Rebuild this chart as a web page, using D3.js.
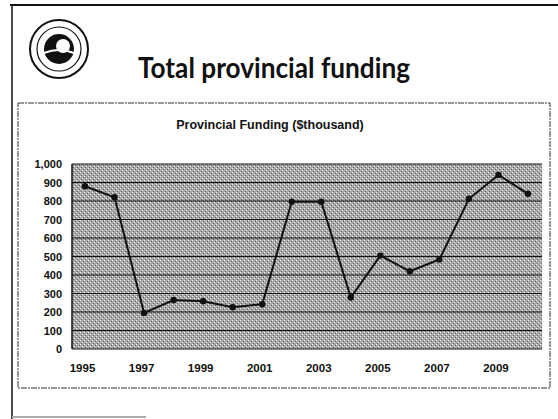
<!DOCTYPE html>
<html>
<head>
<meta charset="utf-8">
<script src="https://cdn.jsdelivr.net/npm/d3@7"></script>
<style>
  body { margin: 0; background: #fff; }
</style>
</head>
<body>
<div id="chart"></div>
<script>
// data
const years = [1995, 1996, 1997, 1998, 1999, 2000, 2001, 2002, 2003, 2004, 2005, 2006, 2007, 2008, 2009, 2010];
const funding = [880, 820, 195, 265, 258, 226, 242, 796, 796, 278, 505, 420, 484, 812, 941, 839];
const yTicks = [0, 100, 200, 300, 400, 500, 600, 700, 800, 900, 1000];
const xLabels = [1995, 1997, 1999, 2001, 2003, 2005, 2007, 2009];

// const
const width = 558;
const height = 419;
const margin = { top: 164, right: 16, bottom: 70, left: 72 };

// svg
const svg = d3.select('#chart')
        .append('svg')
        .attr('width', width)
        .attr('height', height)
        .attr('style', 'font-family: "Liberation Sans", Arial, sans-serif');

// dithered gray texture for plot area
const defs = svg.append('defs');
const pat = defs.append('pattern')
        .attr('id', 'dither')
        .attr('width', 4).attr('height', 4)
        .attr('patternUnits', 'userSpaceOnUse');
pat.append('rect').attr('width', 4).attr('height', 4).attr('fill', '#a8a8a8');
pat.append('rect').attr('x', 0).attr('y', 0).attr('width', 1).attr('height', 1).attr('fill', '#eeeeee');
pat.append('rect').attr('x', 2).attr('y', 2).attr('width', 1).attr('height', 1).attr('fill', '#eeeeee');
pat.append('rect').attr('x', 1).attr('y', 3).attr('width', 1).attr('height', 1).attr('fill', '#666666');
pat.append('rect').attr('x', 3).attr('y', 1).attr('width', 1).attr('height', 1).attr('fill', '#666666');

// slide frame
svg.append('line').attr('x1', 10).attr('x2', 558).attr('y1', 5).attr('y2', 5)
        .attr('stroke', '#111').attr('stroke-width', 2);
svg.append('line').attr('x1', 12).attr('x2', 12).attr('y1', 5).attr('y2', 419)
        .attr('stroke', '#111').attr('stroke-width', 1.5);
svg.append('line').attr('x1', 12).attr('x2', 146).attr('y1', 417).attr('y2', 417)
        .attr('stroke', '#aaa').attr('stroke-width', 2);

// logo
const logo = svg.append('g').attr('transform', 'translate(59,49)');
logo.append('circle').attr('r', 29).attr('fill', '#fff').attr('stroke', '#111').attr('stroke-width', 2);
logo.append('circle').attr('r', 22).attr('fill', 'none').attr('stroke', '#111').attr('stroke-width', 1.2);
logo.append('circle').attr('r', 15).attr('fill', '#111');
logo.append('circle').attr('cx', 4).attr('cy', -3).attr('r', 7).attr('fill', '#fff');
logo.append('path').attr('d', 'M-15,4 Q0,-2 15,4').attr('stroke', '#fff').attr('stroke-width', 2).attr('fill', 'none');

// slide title
svg.append('text')
        .attr('x', 138).attr('y', 78)
        .attr('font-family', 'Lato, "Open Sans", sans-serif')
        .attr('font-weight', 'bold')
        .attr('font-size', 29)
        .attr('textLength', 272)
        .attr('lengthAdjust', 'spacingAndGlyphs')
        .attr('fill', '#111')
        .text('Total provincial funding');

// chart box
svg.append('rect')
        .attr('x', 18).attr('y', 103).attr('width', 532).attr('height', 285)
        .attr('fill', '#fff')
        .attr('stroke', '#333').attr('stroke-width', 1)
        .attr('stroke-dasharray', '6,1,2,1');

// chart title
svg.append('text')
        .attr('x', 270).attr('y', 129)
        .attr('text-anchor', 'middle')
        .attr('font-weight', 'bold')
        .attr('font-size', 12.5)
        .attr('fill', '#111')
        .text('Provincial Funding ($thousand)');

// x axis
const x = d3.scalePoint()
        .domain(years)
        .range([85, 528]);

// y axis
const y = d3.scaleLinear()
        .domain([0, 1000])
        .range([height - margin.bottom, margin.top]);

// plot background
svg.append('rect')
        .attr('x', margin.left).attr('y', margin.top)
        .attr('width', width - margin.right - margin.left)
        .attr('height', height - margin.bottom - margin.top)
        .attr('fill', 'url(#dither)');

// grid lines
svg.append('g')
        .selectAll('line')
        .data(yTicks)
        .join('line')
        .attr('x1', margin.left).attr('x2', width - margin.right)
        .attr('y1', d => y(d)).attr('y2', d => y(d))
        .attr('stroke', '#111').attr('stroke-width', 1.2);

svg.append('line')
        .attr('x1', margin.left).attr('x2', margin.left)
        .attr('y1', margin.top).attr('y2', y(0))
        .attr('stroke', '#111').attr('stroke-width', 1.5);

svg.append('g')
        .attr('transform', `translate(${margin.left - 7}, 0)`)
        .call(d3.axisLeft(y).tickValues(yTicks).tickSize(0).tickFormat(d3.format(',')))
        .call(g => g.select('.domain').remove())
        .call(g => g.selectAll('text')
                .attr('font-family', '"Liberation Sans", Arial, sans-serif')
                .attr('font-weight', 'bold')
                .attr('font-size', 11)
                .attr('fill', '#111'));

svg.append('g')
        .attr('transform', `translate(-3, ${y(0) + 12})`)
        .call(d3.axisBottom(x).tickValues(xLabels).tickSize(0))
        .call(g => g.select('.domain').remove())
        .call(g => g.selectAll('text')
                .attr('font-family', '"Liberation Sans", Arial, sans-serif')
                .attr('font-weight', 'bold')
                .attr('font-size', 11.5)
                .attr('fill', '#111'));

// line
const line = d3.line()
        .x((d, i) => x(years[i]))
        .y(d => y(d));

svg.append('path')
        .datum(funding)
        .attr('d', line)
        .attr('fill', 'none')
        .attr('stroke', '#111')
        .attr('stroke-width', 2);

svg.append('g')
        .selectAll('circle')
        .data(funding)
        .join('circle')
        .attr('cx', (d, i) => x(years[i]))
        .attr('cy', d => y(d))
        .attr('r', 3.2)
        .attr('fill', '#111');
</script>
</body>
</html>
